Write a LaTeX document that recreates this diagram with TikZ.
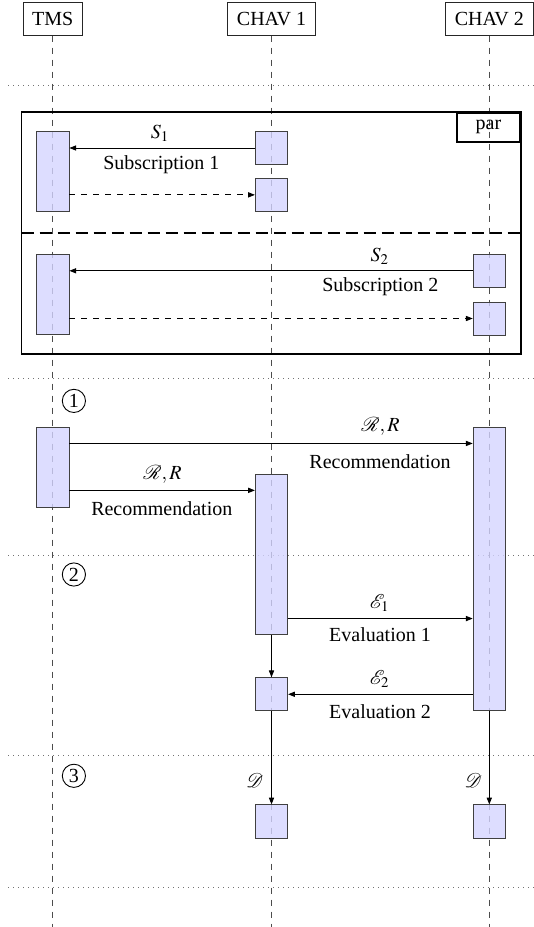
\documentclass[tikz,border=0pt]{standalone}
\usepackage{mathptmx}
\usepackage{fontspec}
\setmainfont{Liberation Serif}
\usetikzlibrary{arrows.meta}
\begin{document}
\begin{tikzpicture}[x=0.5pt,y=-0.5pt,
  head/.style={draw=black!85,fill=white,inner xsep=4.6pt,inner ysep=0pt,minimum height=16.2pt,font=\fontsize{10}{12}\selectfont},
  life/.style={draw=black!70,dashed,line width=0.5pt},
  sep/.style={draw=black!55,dotted,line width=0.5pt},
  act/.style={draw=black!75,fill=blue!17,fill opacity=0.8,text opacity=1,inner sep=0pt,minimum width=16.2pt},
  sq/.style={act,minimum height=16.6pt},
  msg/.style={draw=black,line width=0.45pt,-{Triangle[length=3.4pt,width=2.6pt]}},
  ret/.style={msg,dashed},
  lab/.style={inner sep=0pt,font=\fontsize{10}{12}\selectfont},
  num/.style={draw,circle,inner sep=0pt,minimum size=11.6pt,line width=0.45pt,font=\fontsize{10}{12}\selectfont},
  frame/.style={draw=black,line width=0.9pt}
]
\useasboundingbox (0,0) rectangle (534,927);

% headers
\node[head] (tms) at (52.8,18.9) {TMS};
\node[head] (c1) at (271.5,18.9) {CHAV 1};
\node[head] (c2) at (489.3,18.9) {CHAV 2};
\coordinate (tmsend) at (52.8,927);
\coordinate (c1end) at (271.5,927);
\coordinate (c2end) at (489.3,927);
\draw[life] (tms.south) -- (tmsend);
\draw[life] (c1.south) -- (c1end);
\draw[life] (c2.south) -- (c2end);

% separators
\foreach \yy [count=\i] in {85,378,555,755,887}{
  \coordinate (sl\i) at (8,\yy);
  \coordinate (sr\i) at (534,\yy);
  \draw[sep] (sl\i) -- (sr\i);
}

% par frame
\coordinate (fnw) at (21.5,111.9);
\coordinate (fse) at (521.1,353.7);
\draw[frame] (fnw) rectangle (fse);
\node[draw=black,line width=0.9pt,anchor=north east,minimum width=31.7pt,minimum height=14.5pt,inner sep=0pt,font=\fontsize{10}{12}\selectfont] (par) at (521.1,111.9) {par};
\coordinate (dvl) at (21.5,232.8);
\coordinate (dvr) at (521.1,232.8);
\draw[line width=0.9pt,dash pattern=on 6pt off 3pt] (dvl) -- (dvr);

% activation boxes
\node[act,minimum height=40pt] (t1) at (52.8,171.35) {};
\node[sq] (a1) at (271.5,148.0) {};
\node[sq] (a2) at (271.5,194.85) {};
\node[act,minimum height=40pt] (t2) at (52.8,294.65) {};
\node[sq] (b1) at (489.3,270.8) {};
\node[sq] (b2) at (489.3,318.5) {};
\node[act,minimum height=40pt] (t3) at (52.8,467.45) {};
\node[act,minimum height=141.4pt] (b3) at (489.3,568.75) {};
\node[act,minimum height=79.9pt] (a3) at (271.5,554.65) {};
\node[sq] (a4) at (271.5,694.25) {};
\node[sq] (a5) at (271.5,821.4) {};
\node[sq] (b4) at (489.3,821.4) {};

% messages
\draw[msg] (a1.west) -- (t1.east |- a1.west);
\node[lab] (s1) at (160,133) {$S_1$};
\node[lab] (sub1) at (161.4,164.7) {Subscription 1};
\draw[ret] (t1.east |- a2.west) -- (a2.west);

\draw[msg] (b1.west) -- (t2.east |- b1.west);
\node[lab] (s2) at (379.8,256.7) {$S_2$};
\node[lab] (sub2) at (380.4,286.6) {Subscription 2};
\draw[ret] (t2.east |- b2.west) -- (b2.west);

\draw[msg] ([yshift=-8.2pt]t3.north east) -- ([yshift=-8.2pt]t3.north east -| b3.west);
\node[lab] (r1) at (380.4,426.4) {$\mathcal{R},R$};
\node[lab] (rec1) at (380,461.5) {Recommendation};
\draw[msg] ([yshift=-8pt]a3.north west -| t3.east) -- ([yshift=-8pt]a3.north west);
\node[lab] (r2) at (162.5,474.1) {$\mathcal{R},R$};
\node[lab] (rec2) at (161.8,508.8) {Recommendation};

\draw[msg] ([yshift=8.2pt]a3.south east) -- ([yshift=8.2pt]a3.south east -| b3.west);
\node[lab] (e1) at (379.8,602.8) {$\mathcal{E}_1$};
\node[lab] (ev1) at (380,635.1) {Evaluation 1};
\draw[msg] (b3.west |- a4.east) -- (a4.east);
\node[lab] (e2) at (379.8,679.4) {$\mathcal{E}_2$};
\node[lab] (ev2) at (380,711.8) {Evaluation 2};

\draw[msg] (a3.south) -- (a4.north);
\draw[msg] (a4.south) -- (a5.north);
\draw[msg] (b3.south) -- (b4.north);
\node[lab] (d1) at (254.8,780.9) {$\mathcal{D}$};
\node[lab] (d2) at (473.4,780.9) {$\mathcal{D}$};

% phase numbers
\node[num] (n1) at (73.9,400.9) {1};
\node[num] (n2) at (73.9,574.5) {2};
\node[num] (n3) at (73.9,775.8) {3};
\end{tikzpicture}
\end{document}
